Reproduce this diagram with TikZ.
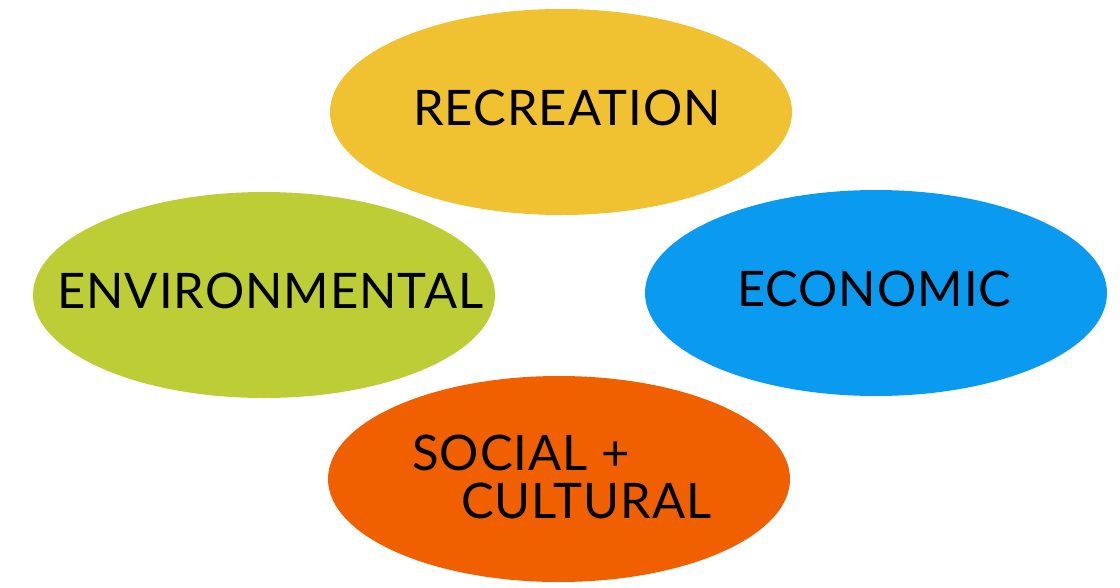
\documentclass[tikz,border=0pt]{standalone}
\usepackage{fontspec}
\setmainfont{Lato}[LetterSpace=2]
\usetikzlibrary{shapes.geometric}
\definecolor{cyellow}{HTML}{F0C231}
\definecolor{cgreen}{HTML}{BCCD35}
\definecolor{cblue}{HTML}{0A9AEF}
\definecolor{corange}{HTML}{F06000}
\tikzset{
  blob/.style={ellipse, minimum width=462pt, minimum height=206pt, inner sep=0pt, draw=none},
  lbl/.style={anchor=base west, inner sep=0pt, font=\fontsize{49}{50}\selectfont, text=black}
}
\begin{document}
\begin{tikzpicture}[x=1pt,y=-1pt]
\useasboundingbox (0,0) rectangle (1120,587);
\node[blob, fill=cyellow] (rec) at (561,112) {};
\node[blob, fill=cgreen] (env) at (264,295) {};
\node[blob, fill=cblue] (eco) at (876,293) {};
\node[blob, fill=corange] (soc) at (559,479) {};
\node[lbl] (trec) at (413,125) {RECREATION};
\node[lbl] (tenv) at (57,308) {ENVIRONMENTAL};
\node[lbl] (teco) at (737,306) {ECONOMIC};
\node[lbl] (tsoc1) at (412,470) {SOCIAL +};
\node[lbl] (tsoc2) at (461,518) {CULTURAL};
\end{tikzpicture}
\end{document}
